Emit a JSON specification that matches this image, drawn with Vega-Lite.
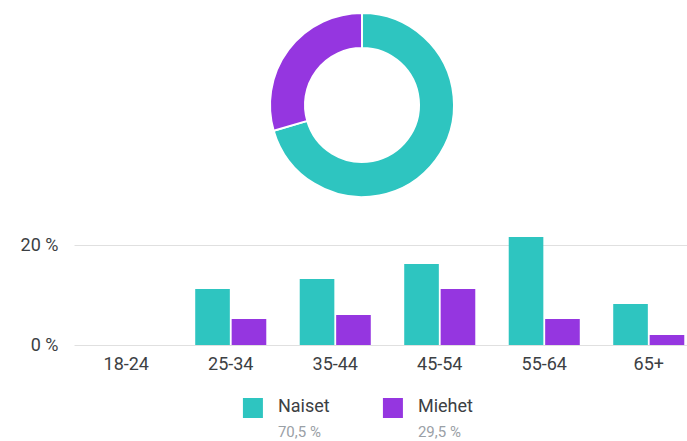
{
  "$schema": "https://vega.github.io/schema/vega-lite/v6.json",
  "padding": {"left": 20, "top": 0, "right": 0, "bottom": 0},
  "bounds": "flush",
  "spacing": 10,
  "config": {"view": {"stroke": null}, "font": "Roboto"},
  "datasets": {
    "share": [
      {"sukupuoli": "Naiset", "osuus": 70.5, "teksti": "70,5 %"},
      {"sukupuoli": "Miehet", "osuus": 29.5, "teksti": "29,5 %"}
    ],
    "ika": [
      {"ika": "18-24", "sukupuoli": "Naiset", "osuus": 0},
      {"ika": "18-24", "sukupuoli": "Miehet", "osuus": 0},
      {"ika": "25-34", "sukupuoli": "Naiset", "osuus": 11.2},
      {"ika": "25-34", "sukupuoli": "Miehet", "osuus": 5.2},
      {"ika": "35-44", "sukupuoli": "Naiset", "osuus": 13.2},
      {"ika": "35-44", "sukupuoli": "Miehet", "osuus": 6.0},
      {"ika": "45-54", "sukupuoli": "Naiset", "osuus": 16.2},
      {"ika": "45-54", "sukupuoli": "Miehet", "osuus": 11.2},
      {"ika": "55-64", "sukupuoli": "Naiset", "osuus": 21.6},
      {"ika": "55-64", "sukupuoli": "Miehet", "osuus": 5.2},
      {"ika": "65+", "sukupuoli": "Naiset", "osuus": 8.2},
      {"ika": "65+", "sukupuoli": "Miehet", "osuus": 2.0}
    ]
  },
  "vconcat": [
    {
      "width": 576,
      "height": 210,
      "data": {"name": "share"},
      "mark": {"type": "arc", "outerRadius": 92, "innerRadius": 57, "stroke": "white", "strokeWidth": 2},
      "encoding": {
        "theta": {"field": "osuus", "type": "quantitative", "stack": true},
        "order": {"field": "osuus", "type": "quantitative", "sort": "descending"},
        "color": {"field": "sukupuoli", "type": "nominal", "scale": {"domain": ["Naiset", "Miehet"], "range": ["#2ec5c0", "#9536e0"]}, "legend": null}
      }
    },
    {
      "width": 627,
      "height": 125,
      "data": {"name": "ika"},
      "mark": {"type": "bar"},
      "encoding": {
        "x": {"field": "ika", "type": "nominal", "sort": null,
          "scale": {"paddingInner": 0.32, "paddingOuter": 0.16},
          "axis": {"title": null, "labelAngle": 0, "domain": false, "ticks": false, "labelPadding": 10, "labelFontSize": 18, "labelColor": "#3c4043"}},
        "xOffset": {"field": "sukupuoli", "type": "nominal", "scale": {"domain": ["Naiset", "Miehet"], "paddingInner": 0.05}},
        "y": {"field": "osuus", "type": "quantitative", "scale": {"domain": [0, 25]},
          "axis": {"title": null, "values": [0, 20], "labelExpr": "datum.value + ' %'", "domain": false, "ticks": false, "labelPadding": 16, "labelFontSize": 18, "labelColor": "#3c4043", "gridColor": "#e0e0e0"}},
        "color": {"field": "sukupuoli", "type": "nominal", "legend": null}
      }
    },
    {
      "width": 420,
      "height": 86,
      "data": {"name": "share"},
      "encoding": {
        "x": {"field": "sukupuoli", "type": "nominal", "scale": {"type": "point", "domain": ["Naiset", "Miehet"], "padding": 1, "align": 0.639}, "axis": null}
      },
      "layer": [
        {"mark": {"type": "point", "shape": "square", "filled": true, "size": 400, "opacity": 1, "yOffset": 10},
         "encoding": {"color": {"field": "sukupuoli", "type": "nominal", "legend": null}}},
        {"mark": {"type": "text", "align": "left", "dx": 25, "yOffset": 9, "fontSize": 18, "color": "#3c4043"},
         "encoding": {"text": {"field": "sukupuoli", "type": "nominal"}}},
        {"mark": {"type": "text", "align": "left", "dx": 25, "yOffset": 34, "fontSize": 15, "color": "#9aa0a6"},
         "encoding": {"text": {"field": "teksti", "type": "nominal"}}}
      ]
    }
  ]
}
